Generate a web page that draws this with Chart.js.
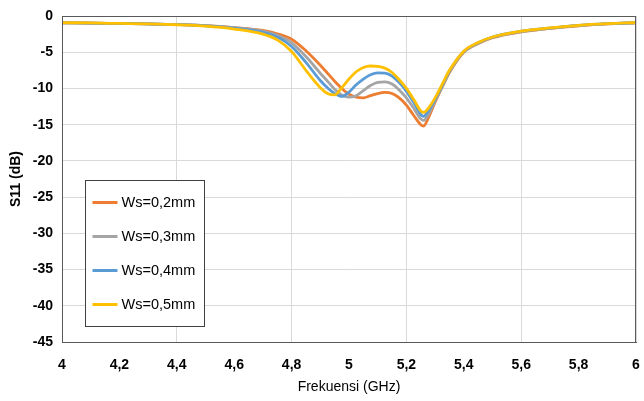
<!DOCTYPE html>
<html>
<head>
<meta charset="utf-8">
<script src="https://cdn.jsdelivr.net/npm/chart.js@4.4.0/dist/chart.umd.min.js"></script>
<style>
  html, body { margin: 0; padding: 0; background: #fff; }
  #wrap { width: 644px; height: 401px; }
</style>
</head>
<body>
<div id="wrap"><canvas id="s11-chart" width="644" height="401"></canvas></div>
<script>
// frequency points (GHz)
const freqs = [4.0, 4.1, 4.2, 4.3, 4.4, 4.5, 4.6, 4.7, 4.75, 4.8, 4.85, 4.9, 4.925, 4.95, 4.975,
    5.0, 5.025, 5.05, 5.075, 5.1, 5.125, 5.15, 5.175, 5.2, 5.225, 5.25, 5.26, 5.275, 5.3, 5.325,
    5.35, 5.4, 5.45, 5.5, 5.6, 5.7, 5.8, 5.9, 6.0];

// S11 in dB for each slot width
const ws02 = [-0.93, -0.97, -1.04, -1.1, -1.18, -1.32, -1.6, -2.0, -2.45, -3.2, -4.8, -6.8, -7.9, -9.0, -10.0,
    -10.8, -11.2, -11.3, -11.0, -10.7, -10.55, -10.7, -11.3, -12.3, -13.7, -15.0, -15.2, -14.2, -11.9, -9.8,
    -7.8, -5.0, -3.8, -3.0, -2.2, -1.7, -1.35, -1.1, -0.95];
const ws03 = [-0.93, -0.97, -1.04, -1.1, -1.18, -1.33, -1.62, -2.1, -2.65, -3.7, -5.6, -7.9, -9.0, -10.1, -10.9,
    -11.2, -11.0, -10.3, -9.6, -9.15, -9.1, -9.4, -10.2, -11.3, -12.7, -14.2, -14.4, -13.7, -11.7, -9.7,
    -7.7, -4.95, -3.75, -2.95, -2.15, -1.7, -1.33, -1.08, -0.93];
const ws04 = [-0.93, -0.97, -1.04, -1.1, -1.19, -1.35, -1.68, -2.25, -2.9, -4.2, -6.4, -8.9, -9.9, -10.7, -11.1,
    -10.5, -9.5, -8.7, -8.1, -7.85, -7.9, -8.3, -9.2, -10.4, -11.9, -13.6, -13.85, -13.2, -11.5, -9.6,
    -7.6, -4.9, -3.7, -2.9, -2.1, -1.68, -1.3, -1.06, -0.92];
const ws05 = [-0.92, -0.96, -1.03, -1.1, -1.21, -1.4, -1.8, -2.5, -3.3, -4.9, -7.5, -9.9, -10.7, -10.9, -9.9,
    -8.7, -7.7, -7.1, -6.9, -6.95, -7.2, -7.8, -8.8, -10.0, -11.5, -13.1, -13.3, -12.8, -11.3, -9.4,
    -7.5, -4.85, -3.65, -2.9, -2.1, -1.65, -1.28, -1.05, -0.9];

const seriesNames = ['Ws=0,2mm', 'Ws=0,3mm', 'Ws=0,4mm', 'Ws=0,5mm'];
const seriesColors = ['#ED7D31', '#A5A5A5', '#5B9BD5', '#FFC000'];

const xTickValues = [4, 4.2, 4.4, 4.6, 4.8, 5, 5.2, 5.4, 5.6, 5.8, 6];
const yTickValues = [0, -5, -10, -15, -20, -25, -30, -35, -40, -45];

const tickFont = { family: "'Liberation Sans', Arial, sans-serif", size: 14, weight: 'bold' };
const frameColor = '#595959';
const gridColor = '#d9d9d9';

const toPoints = (vals) => freqs.map((f, i) => ({ x: f, y: vals[i] }));

// frame on top/right and the boxed legend inside the plot
const frameAndLegend = {
    id: 'frameAndLegend',
    afterDraw(chart) {
        const { ctx, chartArea } = chart;
        ctx.save();
        ctx.strokeStyle = frameColor;
        ctx.lineWidth = 1;
        ctx.strokeRect(chartArea.left + 0.5, chartArea.top + 0.5,
            chartArea.right - chartArea.left - 1, chartArea.bottom - chartArea.top);

        const bx = chartArea.left + 23.5, by = chartArea.top + 164.5, bw = 119, bh = 146;
        ctx.fillStyle = '#fff';
        ctx.fillRect(bx, by, bw, bh);
        ctx.strokeStyle = '#404040';
        ctx.strokeRect(bx, by, bw, bh);

        ctx.font = "14.5px 'Liberation Sans', Arial, sans-serif";
        ctx.textBaseline = 'middle';
        seriesNames.forEach((name, i) => {
            const y = by + 22 + i * 34;
            ctx.strokeStyle = seriesColors[i];
            ctx.lineWidth = 3;
            ctx.beginPath();
            ctx.moveTo(bx + 7, y);
            ctx.lineTo(bx + 32, y);
            ctx.stroke();
            ctx.fillStyle = '#000';
            ctx.fillText(name, bx + 36, y);
        });
        ctx.restore();
    }
};

const renderChart = () => {
    const ctx = document.getElementById('s11-chart').getContext('2d');
    const datasets = seriesNames.map((name, i) => ({
        label: name,
        data: toPoints([ws02, ws03, ws04, ws05][i]),
        borderColor: seriesColors[i],
        backgroundColor: seriesColors[i],
        borderWidth: 2.8,
        pointRadius: 0,
        cubicInterpolationMode: 'monotone',
        order: 3 - i
    }));

    new Chart(ctx, {
        type: 'line',
        data: { datasets },
        options: {
            responsive: false,
            animation: false,
            devicePixelRatio: 1,
            layout: { padding: { top: 16, right: 8, left: 0, bottom: 0 } },
            plugins: {
                legend: { display: false },
                tooltip: { enabled: false }
            },
            scales: {
                x: {
                    type: 'linear',
                    min: 4,
                    max: 6,
                    afterBuildTicks: (scale) => { scale.ticks = xTickValues.map(v => ({ value: v })); },
                    afterFit: (scale) => {
                        scale.height = 59;
                        scale.paddingLeft = 0;
                        scale.paddingRight = 0;
                    },
                    ticks: {
                        font: tickFont,
                        color: '#000',
                        padding: 15,
                        maxRotation: 0,
                        callback: (v) => String(Number(v.toFixed(1))).replace('.', ',')
                    },
                    grid: {
                        drawTicks: false,
                        color: (c) => (c.tick && Math.round(c.tick.value * 10) % 4 === 0) ? gridColor : 'rgba(0,0,0,0)'
                    },
                    border: { display: true, color: frameColor, width: 1 },
                    title: {
                        display: true,
                        text: 'Frekuensi (GHz)',
                        font: { family: "'Liberation Sans', Arial, sans-serif", size: 14 },
                        color: '#000',
                        padding: { top: 0, bottom: 5 }
                    }
                },
                y: {
                    min: -45,
                    max: 0,
                    afterBuildTicks: (scale) => { scale.ticks = yTickValues.map(v => ({ value: v })); },
                    afterFit: (scale) => {
                        scale.width = 62;
                        scale.paddingTop = 0;
                        scale.paddingBottom = 0;
                    },
                    ticks: {
                        font: tickFont,
                        color: '#000',
                        padding: 9,
                        callback: (v) => String(v)
                    },
                    grid: { drawTicks: false, color: gridColor },
                    border: { display: true, color: frameColor, width: 1 },
                    title: {
                        display: true,
                        text: 'S11 (dB)',
                        font: { family: "'Liberation Sans', Arial, sans-serif", size: 14, weight: 'bold' },
                        color: '#000',
                        padding: { top: 8, bottom: 0 }
                    }
                }
            }
        },
        plugins: [frameAndLegend]
    });
};

document.addEventListener('DOMContentLoaded', () => {
    renderChart();
});
</script>
</body>
</html>
